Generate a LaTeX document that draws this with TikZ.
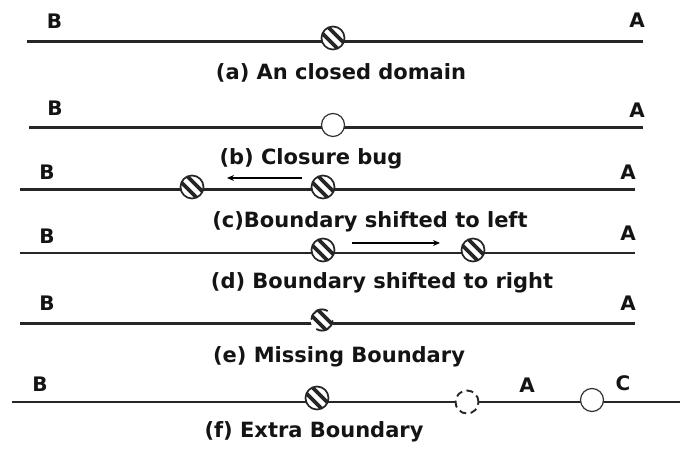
\documentclass[tikz,border=0pt]{standalone}
\usepackage{fontspec}
\setmainfont{DejaVu Sans}
\usetikzlibrary{arrows.meta}
\begin{document}
\begin{tikzpicture}[x=1pt,y=1pt]
\tikzset{
  lbl/.style={font=\bfseries\fontsize{20}{22}\selectfont, inner sep=0, text=black!92},
  captxt/.style={font=\bfseries\fontsize{21}{23}\selectfont, inner sep=0, anchor=base, text=black!92},
  axis/.style={line width=2.2pt, black!85},
  stripes/.style={path picture={
      \foreach \t in {-4.3,4.3}
        \draw[line width=3.7pt, black!85]
          ([shift={(\t*0.7071-16,\t*0.7071+16)}]path picture bounding box.center) --
          ([shift={(\t*0.7071+16,\t*0.7071-16)}]path picture bounding box.center);
  }},
  hatchc/.style={circle, draw=black!85, line width=1.7pt, fill=white, minimum size=23pt, inner sep=0, stripes},
  halfc/.style={circle, fill=white, minimum size=23pt, inner sep=0, stripes},
  halfarc/.style={line width=1.9pt, black!85, line cap=round},
  openc/.style={circle, draw=black!80, line width=1.2pt, fill=white, minimum size=23pt, inner sep=0},
  dashc/.style={circle, draw=black!85, line width=1.9pt, fill=white, dash pattern=on 7pt off 4.5pt, minimum size=23pt, inner sep=0},
  arr/.style={line width=1.3pt, -{Stealth[length=7pt,width=6pt]}}
}
\useasboundingbox (0,0) rectangle (680,449);
% (a)
\coordinate (aL) at (27,407.5); \coordinate (aR) at (643,407.5);
\draw[axis] (aL) -- (aR);
\node[hatchc] (a1) at (333,411) {};
\node[lbl] (aB) at (54.5,427.5) {B};
\node[lbl] (aA) at (637,429) {A};
\node[captxt] (acap) at (341,369) {(a) An closed domain};
% (b)
\coordinate (bL) at (29,321.5); \coordinate (bR) at (643,321.5);
\draw[axis] (bL) -- (bR);
\node[openc] (b1) at (333,324) {};
\node[lbl] (bB) at (55,340.5) {B};
\node[lbl] (bA) at (637,339) {A};
\node[captxt] (bcap) at (311,284) {(b) Closure bug};
% (c)
\coordinate (cL) at (20,259.5); \coordinate (cR) at (635,259.5);
\draw[axis] (cL) -- (cR);
\node[hatchc] (c1) at (192,262) {};
\node[hatchc] (c2) at (323,262) {};
\coordinate (cs) at (302,271); \coordinate (ce) at (227,271);
\draw[arr] (cs) -- (ce);
\node[lbl] (cB) at (47,277) {B};
\node[lbl] (cA) at (628,277) {A};
\node[captxt] (ccap) at (370,221) {(c)Boundary shifted to left};
% (d)
\coordinate (dL) at (20,196); \coordinate (dR) at (635,196);
\draw[axis] (dL) -- (dR);
\node[hatchc] (d1) at (323,199) {};
\node[hatchc] (d2) at (473,199) {};
\coordinate (ds) at (352,206); \coordinate (de) at (440,206);
\draw[arr] (ds) -- (de);
\node[lbl] (dB) at (47,213) {B};
\node[lbl] (dA) at (628,216) {A};
\node[captxt] (dcap) at (382,160) {(d) Boundary shifted to right};
% (e)
\coordinate (eL) at (20,125.5); \coordinate (eR) at (635,125.5);
\draw[axis] (eL) -- (eR);
\node[halfc] (e1) at (322,129) {};
\draw[halfarc] (e1.center) ++(60:10.6) arc[start angle=60, end angle=175, radius=10.6];
\draw[halfarc] (e1.center) ++(240:10.6) arc[start angle=240, end angle=355, radius=10.6];
\node[lbl] (eB) at (47,146) {B};
\node[lbl] (eA) at (628,146) {A};
\node[captxt] (ecap) at (339,86) {(e) Missing Boundary};
% (f)
\coordinate (fL) at (12,47); \coordinate (fR) at (680,47);
\draw[axis] (fL) -- (fR);
\node[hatchc] (f1) at (317,51) {};
\node[dashc] (f2) at (467,47) {};
\node[openc] (f3) at (592,49) {};
\node[lbl] (fB) at (40,65) {B};
\node[lbl] (fA) at (527,64) {A};
\node[lbl] (fC) at (623,66) {C};
\node[captxt] (fcap) at (314,11) {(f) Extra Boundary};
\end{tikzpicture}
\end{document}
